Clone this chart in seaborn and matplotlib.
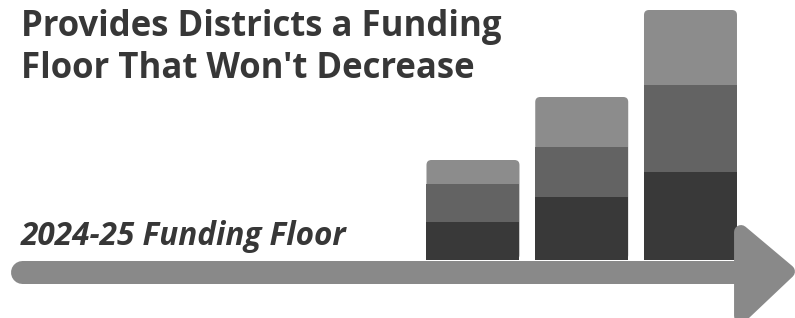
import numpy as np
import pandas as pd
import matplotlib
matplotlib.use("Agg")
import matplotlib.pyplot as plt
import seaborn as sns
from matplotlib.patches import FancyBboxPatch, Polygon

sns.set_style("white")
plt.rcParams['font.family'] = ['Open Sans', 'DejaVu Sans']

# stacked segments of each bar (bottom -> top)
years = ['Year 1', 'Year 2', 'Year 3']
base = [3.8, 6.3, 8.8]
middle = [3.8, 5.0, 8.7]
top = [2.4, 5.0, 7.5]

title_lines = ["Provides Districts a Funding", "Floor That Won't Decrease"]
floor_label = "2024-25 Funding Floor"

dark = '#393939'
mid = '#636363'
light = '#8c8c8c'
arrow_col = '#898989'
text_col = '#373737'

df = pd.DataFrame({'year': years, 'base': base, 'middle': middle, 'top': top})
df['lvl2'] = df['base'] + df['middle']
df['total'] = df['lvl2'] + df['top']

fig = plt.figure(figsize=(7.95, 3.18), dpi=100)
ax = fig.add_axes([0, 0, 1, 1])
xlim = (-4.349, 2.961)
ylim = (-5.8, 26.0)

# total (light) with rounded top corners
sns.barplot(data=df, x='year', y='total', color=light, width=0.855,
            saturation=1, linewidth=0, ax=ax)
ax.set_xlim(*xlim)
ax.set_ylim(*ylim)
px_x = 795 / (xlim[1] - xlim[0])
px_y = 318 / (ylim[1] - ylim[0])
for p in list(ax.patches):
    x, y, w, h = p.get_x(), p.get_y(), p.get_width(), p.get_height()
    p.remove()
    r = 5 / px_x
    ax.add_patch(FancyBboxPatch((x, y), w, h, boxstyle=f"round,pad=0,rounding_size={r}",
                                mutation_aspect=px_x / px_y, fc=light, ec='none'))

sns.barplot(data=df, x='year', y='lvl2', color=mid, width=0.855,
            saturation=1, linewidth=0, ax=ax)
sns.barplot(data=df, x='year', y='base', color=dark, width=0.855,
            saturation=1, linewidth=0, ax=ax)
ax.set_xlim(*xlim)
ax.set_ylim(*ylim)
ax.axis('off')

# overlay in pixel coords for arrow + text
ov = fig.add_axes([0, 0, 1, 1], facecolor='none')
ov.set_xlim(0, 795)
ov.set_ylim(318, 0)
ov.axis('off')

ov.plot([21.5, 745], [271.5, 271.5], color=arrow_col, lw=23 * 0.72,
        solid_capstyle='round')
head = Polygon([[741, 232], [741, 316], [788, 271.5]], closed=True,
               fc=arrow_col, ec=arrow_col, lw=10, joinstyle='round')
ov.add_patch(head)

ov.text(21, 36, title_lines[0], fontsize=25, fontweight='bold', color=text_col,
        va='baseline', ha='left')
ov.text(21, 78, title_lines[1], fontsize=25, fontweight='bold', color=text_col,
        va='baseline', ha='left')
ov.text(21, 245, floor_label, fontsize=22.7, fontweight='bold', fontstyle='italic',
        color=text_col, va='baseline', ha='left')

fig.savefig('out.png', dpi=100)
